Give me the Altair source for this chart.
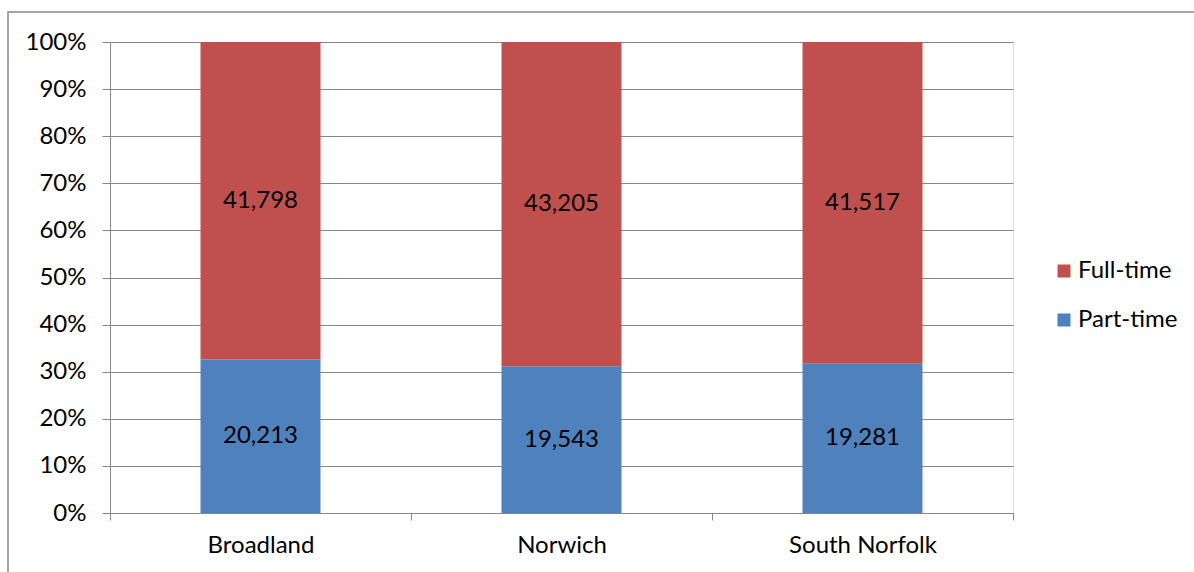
import altair as alt
import pandas as pd

# Employment by district, split into part-time and full-time jobs
regions = ["Broadland", "Norwich", "South Norfolk"]
part_time = [20213, 19543, 19281]
full_time = [41798, 43205, 41517]
series = ["Full-time", "Part-time"]
colors = ["#C0504D", "#4F81BD"]

rows = []
for i, r in enumerate(regions):
    rows.append({"region": r, "type": "Part-time", "value": part_time[i], "order": 0})
    rows.append({"region": r, "type": "Full-time", "value": full_time[i], "order": 1})
df = pd.DataFrame(rows)

FONT = "Lato"
FS = 24
GRID = "#868686"

# bands fill the whole width so that "extent" ticks fall between categories
x_scale = alt.Scale(paddingInner=0, paddingOuter=0)
x_enc = alt.X(
    "region:N",
    sort=regions,
    scale=x_scale,
    axis=alt.Axis(
        title=None, labelAngle=0, labelFontSize=FS, labelFont=FONT, labelColor="black",
        domainColor=GRID, tickColor=GRID, tickSize=7, tickBand="extent",
        labelPadding=13, grid=False,
    ),
)

y_scale = alt.Scale(domain=[0, 1])
y_axis = alt.Axis(
    title=None, format=".0%", values=[i / 10 for i in range(11)],
    labelFontSize=FS, labelFont=FONT, labelColor="black", labelPadding=16,
    grid=True, gridColor=GRID, domainColor=GRID, tickColor=GRID, tickSize=8,
)

bars = alt.Chart(df).mark_bar(size=120).encode(
    x=x_enc,
    y=alt.Y("value:Q", stack="normalize", scale=y_scale, axis=y_axis),
    color=alt.Color(
        "type:N",
        scale=alt.Scale(domain=series, range=colors),
        legend=alt.Legend(
            title=None, orient="none", legendX=942, legendY=217,
            symbolType="square", symbolSize=169, symbolStrokeWidth=0,
            labelFontSize=FS, labelFont=FONT, labelColor="black",
            labelOffset=2, rowPadding=25,
        ),
    ),
    order=alt.Order("order:Q"),
)

labels = alt.Chart(df).transform_joinaggregate(
    total="sum(value)", groupby=["region"]
).transform_window(
    cum="sum(value)", groupby=["region"], sort=[alt.SortField("order")]
).transform_calculate(
    mid="(datum.cum - datum.value / 2) / datum.total"
).mark_text(font=FONT, fontSize=FS, color="black").encode(
    x=alt.X("region:N", sort=regions, scale=x_scale),
    y=alt.Y("mid:Q", scale=y_scale),
    text=alt.Text("value:Q", format=","),
)

frame = alt.Chart(alt.Data(values=[{}])).mark_rect(
    fill=None, stroke="#888888", strokeWidth=1.5, clip=False
).encode(
    x=alt.value(-102), x2=alt.value(1100), y=alt.value(-30), y2=alt.value(560)
)

chart = alt.layer(bars, labels, frame).properties(
    width=903, height=471,
    autosize=alt.AutoSizeParams(type="none"),
    padding={"left": 110, "top": 42, "right": 181, "bottom": 59},
).configure_view(stroke=None).configure(background="white")

chart.save("out.html", embed_options={"renderer": "svg", "actions": False})
